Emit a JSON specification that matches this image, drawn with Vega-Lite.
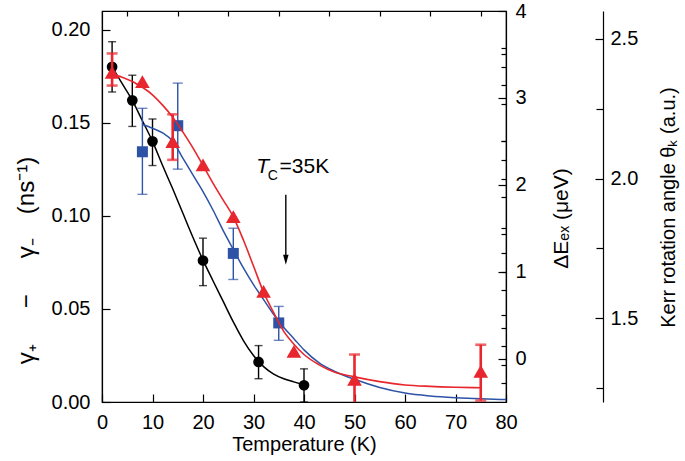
{
  "$schema": "https://vega.github.io/schema/vega-lite/v6.json",
  "width": 404,
  "height": 391,
  "autosize": {"type": "none"},
  "padding": {"left": 102, "top": 11, "right": 179, "bottom": 59},
  "background": "white",
  "config": {
    "font": "Liberation Sans",
    "view": {"stroke": "black", "strokeWidth": 1.2},
    "axis": {
      "domainColor": "black", "domainWidth": 1.2,
      "tickColor": "black", "tickWidth": 1.2,
      "labelColor": "black", "titleColor": "black",
      "labelFont": "Liberation Sans", "titleFont": "Liberation Sans",
      "labelFontSize": 20, "titleFontSize": 20, "titleFontWeight": "normal",
      "labelFlush": false, "grid": false
    }
  },
  "datasets": {
    "gammaPts": [
      {"T": 2, "v": 0.180, "lo": 0.1665, "hi": 0.1935},
      {"T": 6, "v": 0.162, "lo": 0.148, "hi": 0.1755},
      {"T": 10, "v": 0.140, "lo": 0.127, "hi": 0.152},
      {"T": 20, "v": 0.076, "lo": 0.0625, "hi": 0.088},
      {"T": 31, "v": 0.0215, "lo": 0.0125, "hi": 0.0303},
      {"T": 40, "v": 0.009, "lo": 0.0, "hi": 0.0178}
    ],
    "gammaFit": [
      {"T": 2, "v": 0.180}, {"T": 4, "v": 0.171}, {"T": 6, "v": 0.162}, {"T": 8, "v": 0.151},
      {"T": 10, "v": 0.140}, {"T": 12, "v": 0.127}, {"T": 14, "v": 0.1145}, {"T": 16, "v": 0.1015},
      {"T": 18, "v": 0.0885}, {"T": 20, "v": 0.0762}, {"T": 22, "v": 0.065}, {"T": 24, "v": 0.054},
      {"T": 26, "v": 0.043}, {"T": 28, "v": 0.033}, {"T": 30, "v": 0.025}, {"T": 32, "v": 0.019},
      {"T": 34, "v": 0.015}, {"T": 36, "v": 0.0125}, {"T": 38, "v": 0.0108}, {"T": 40, "v": 0.0092}
    ],
    "dePts": [
      {"T": 8, "v": 2.38, "lo": 1.89, "hi": 2.88},
      {"T": 15, "v": 2.68, "lo": 2.18, "hi": 3.17},
      {"T": 26, "v": 1.21, "lo": 0.91, "hi": 1.50},
      {"T": 35, "v": 0.41, "lo": 0.21, "hi": 0.60}
    ],
    "deFit": [
      {"T": 8, "v": 2.693}, {"T": 10, "v": 2.65}, {"T": 12, "v": 2.597}, {"T": 14, "v": 2.5},
      {"T": 16, "v": 2.307}, {"T": 18, "v": 2.114}, {"T": 20, "v": 1.922}, {"T": 22, "v": 1.707},
      {"T": 24, "v": 1.472}, {"T": 26, "v": 1.257}, {"T": 28, "v": 1.043}, {"T": 30, "v": 0.85},
      {"T": 32, "v": 0.679}, {"T": 34, "v": 0.507}, {"T": 36, "v": 0.357}, {"T": 38, "v": 0.229},
      {"T": 40, "v": 0.1}, {"T": 43, "v": -0.05}, {"T": 46, "v": -0.146}, {"T": 50, "v": -0.239},
      {"T": 55, "v": -0.333}, {"T": 60, "v": -0.397}, {"T": 65, "v": -0.431}, {"T": 70, "v": -0.451},
      {"T": 75, "v": -0.464}, {"T": 80, "v": -0.472}
    ],
    "kerrPts": [
      {"T": 2, "v": 2.38, "lo": 2.333, "hi": 2.448},
      {"T": 8, "v": 2.347},
      {"T": 14, "v": 2.132, "lo": 2.067, "hi": 2.23},
      {"T": 20, "v": 2.049},
      {"T": 26, "v": 1.864},
      {"T": 32, "v": 1.596},
      {"T": 38, "v": 1.381},
      {"T": 50, "v": 1.281, "lo": 1.19, "hi": 1.37},
      {"T": 75, "v": 1.31, "lo": 1.205, "hi": 1.405}
    ],
    "kerrFit": [
      {"T": 1.5, "v": 2.373}, {"T": 4, "v": 2.363}, {"T": 8, "v": 2.327}, {"T": 10, "v": 2.3},
      {"T": 12, "v": 2.263}, {"T": 14, "v": 2.22}, {"T": 16, "v": 2.167}, {"T": 18, "v": 2.11},
      {"T": 20, "v": 2.047}, {"T": 22, "v": 1.983}, {"T": 24, "v": 1.923}, {"T": 26, "v": 1.863},
      {"T": 28, "v": 1.78}, {"T": 30, "v": 1.687}, {"T": 32, "v": 1.593}, {"T": 34, "v": 1.52},
      {"T": 36, "v": 1.453}, {"T": 38, "v": 1.407}, {"T": 40, "v": 1.37}, {"T": 43, "v": 1.333},
      {"T": 46, "v": 1.307}, {"T": 50, "v": 1.29}, {"T": 55, "v": 1.273}, {"T": 60, "v": 1.261},
      {"T": 65, "v": 1.256}, {"T": 70, "v": 1.253}, {"T": 75, "v": 1.251}
    ],
    "note": [
      {"part": "T", "T": 30.55, "v": 0.1232, "txt": "T"},
      {"part": "C", "T": 32.8, "v": 0.1193, "txt": "C"},
      {"part": "rest", "T": 35.15, "v": 0.1232, "txt": "=35K"}
    ],
    "arrow": [
      {"T": 36.4, "top": 0.1113, "bot": 0.0775, "tip": 0.0764}
    ]
  },
  "layer": [
    {
      "layer": [
        {
          "data": {"name": "gammaFit"},
          "mark": {"type": "line", "color": "black", "strokeWidth": 1.5, "interpolate": "monotone"},
          "encoding": {
            "x": {"field": "T", "type": "quantitative",
                  "scale": {"domain": [0, 80], "nice": false, "zero": false},
                  "axis": {"values": [0, 10, 20, 30, 40, 50, 60, 70, 80], "tickSize": -8, "labelPadding": 18,
                           "title": "Temperature (K)", "titleY": 48, "titleBaseline": "alphabetic"}},
            "y": {"field": "v", "type": "quantitative",
                  "scale": {"domain": [0, 0.21], "nice": false, "zero": false},
                  "axis": {"values": [0, 0.05, 0.1, 0.15, 0.2], "format": ".2f", "tickSize": -8, "labelPadding": 20,
                           "title": "γ₊\u2003\u2002−\u2003\u2002γ₋\u2003(ns⁻¹)", "titleFontSize": 24, "titleX": -76, "titleY": 249, "titleBaseline": "middle", "titleAngle": 270}}
          }
        },
        {
          "data": {"name": "gammaPts"},
          "mark": {"type": "errorbar", "color": "black", "thickness": 1.4, "ticks": {"size": 8, "thickness": 1.4}},
          "encoding": {
            "x": {"field": "T", "type": "quantitative", "scale": {"domain": [0, 80], "nice": false}, "axis": null},
            "y": {"field": "lo", "type": "quantitative", "scale": {"domain": [0, 0.21], "nice": false}, "axis": null},
            "y2": {"field": "hi"}
          }
        },
        {
          "data": {"name": "gammaPts"},
          "mark": {"type": "point", "shape": "circle", "filled": true, "size": 115, "color": "black", "opacity": 1},
          "encoding": {
            "x": {"field": "T", "type": "quantitative", "scale": {"domain": [0, 80], "nice": false}, "axis": null},
            "y": {"field": "v", "type": "quantitative", "scale": {"domain": [0, 0.21], "nice": false}, "axis": null}
          }
        },
        {
          "data": {"name": "note"},
          "transform": [{"filter": "datum.part === 'T'"}],
          "mark": {"type": "text", "fontSize": 21, "fontStyle": "italic", "align": "left", "baseline": "alphabetic", "color": "black", "font": "Liberation Sans"},
          "encoding": {
            "x": {"field": "T", "type": "quantitative", "scale": {"domain": [0, 80], "nice": false}, "axis": null},
            "y": {"field": "v", "type": "quantitative", "scale": {"domain": [0, 0.21], "nice": false}, "axis": null},
            "text": {"field": "txt"}
          }
        },
        {
          "data": {"name": "note"},
          "transform": [{"filter": "datum.part === 'C'"}],
          "mark": {"type": "text", "fontSize": 14, "align": "left", "baseline": "alphabetic", "color": "black", "font": "Liberation Sans"},
          "encoding": {
            "x": {"field": "T", "type": "quantitative", "scale": {"domain": [0, 80], "nice": false}, "axis": null},
            "y": {"field": "v", "type": "quantitative", "scale": {"domain": [0, 0.21], "nice": false}, "axis": null},
            "text": {"field": "txt"}
          }
        },
        {
          "data": {"name": "note"},
          "transform": [{"filter": "datum.part === 'rest'"}],
          "mark": {"type": "text", "fontSize": 21, "align": "left", "baseline": "alphabetic", "color": "black", "font": "Liberation Sans"},
          "encoding": {
            "x": {"field": "T", "type": "quantitative", "scale": {"domain": [0, 80], "nice": false}, "axis": null},
            "y": {"field": "v", "type": "quantitative", "scale": {"domain": [0, 0.21], "nice": false}, "axis": null},
            "text": {"field": "txt"}
          }
        },
        {
          "data": {"name": "arrow"},
          "mark": {"type": "rule", "color": "black", "strokeWidth": 1.4},
          "encoding": {
            "x": {"field": "T", "type": "quantitative", "scale": {"domain": [0, 80], "nice": false}, "axis": null},
            "y": {"field": "top", "type": "quantitative", "scale": {"domain": [0, 0.21], "nice": false}, "axis": null},
            "y2": {"field": "bot"}
          }
        },
        {
          "data": {"name": "arrow"},
          "mark": {"type": "point", "shape": "M0,1L-0.55,-1L0.55,-1Z", "filled": true, "size": 100, "color": "black", "opacity": 1},
          "encoding": {
            "x": {"field": "T", "type": "quantitative", "scale": {"domain": [0, 80], "nice": false}, "axis": null},
            "y": {"field": "tip", "type": "quantitative", "scale": {"domain": [0, 0.21], "nice": false}, "axis": null}
          }
        },
        {
          "data": {"name": "gammaPts"},
          "mark": {"type": "point", "opacity": 0},
          "encoding": {
            "x": {"field": "T", "type": "quantitative", "scale": {"domain": [0, 80], "nice": false},
                  "axis": {"values": [5, 15, 25, 35, 45, 55, 65, 75], "labels": false, "domain": false, "tickSize": -5, "title": null}},
            "y": {"field": "v", "type": "quantitative", "scale": {"domain": [0, 0.21], "nice": false},
                  "axis": {"values": [0.01, 0.02, 0.03, 0.04, 0.06, 0.07, 0.08, 0.09, 0.11, 0.12, 0.13, 0.14, 0.16, 0.17, 0.18, 0.19],
                           "labels": false, "domain": false, "tickSize": -5, "title": null}}
          }
        }
      ],
      "resolve": {"axis": {"x": "independent", "y": "independent"}}
    },
    {
      "layer": [
        {
          "data": {"name": "deFit"},
          "mark": {"type": "line", "color": "#2d52a6", "strokeWidth": 1.5, "interpolate": "monotone"},
          "encoding": {
            "x": {"field": "T", "type": "quantitative", "scale": {"domain": [0, 80], "nice": false}, "axis": null},
            "y": {"field": "v", "type": "quantitative",
                  "scale": {"domain": [-0.5, 4], "nice": false, "zero": false},
                  "axis": {"orient": "right", "values": [0, 1, 2, 3, 4], "tickSize": -8, "labelPadding": 17,
                           "title": "ΔEₑₓ (μeV)", "titleFontSize": 21, "titleAngle": 270, "titleX": 55, "titleY": 207, "titleBaseline": "middle"}}
          }
        },
        {
          "data": {"name": "dePts"},
          "mark": {"type": "errorbar", "color": "#2d52a6", "thickness": 1.4, "ticks": {"size": 10, "thickness": 1.4}},
          "encoding": {
            "x": {"field": "T", "type": "quantitative", "scale": {"domain": [0, 80], "nice": false}, "axis": null},
            "y": {"field": "lo", "type": "quantitative", "scale": {"domain": [-0.5, 4], "nice": false, "zero": false}, "axis": null},
            "y2": {"field": "hi"}
          }
        },
        {
          "data": {"name": "dePts"},
          "mark": {"type": "point", "shape": "square", "filled": true, "size": 121, "color": "#2d52a6", "opacity": 1},
          "encoding": {
            "x": {"field": "T", "type": "quantitative", "scale": {"domain": [0, 80], "nice": false}, "axis": null},
            "y": {"field": "v", "type": "quantitative", "scale": {"domain": [-0.5, 4], "nice": false, "zero": false}, "axis": null}
          }
        },
        {
          "data": {"name": "dePts"},
          "mark": {"type": "point", "opacity": 0},
          "encoding": {
            "x": {"field": "T", "type": "quantitative", "scale": {"domain": [0, 80], "nice": false}, "axis": null},
            "y": {"field": "v", "type": "quantitative", "scale": {"domain": [-0.5, 4], "nice": false, "zero": false},
                  "axis": {"orient": "right", "values": [0.5, 1.5, 2.5, 3.5], "labels": false, "domain": false, "tickSize": -5, "title": null}}
          }
        }
      ],
      "resolve": {"axis": {"y": "independent"}}
    },
    {
      "layer": [
        {
          "data": {"name": "kerrFit"},
          "mark": {"type": "line", "color": "#e8262d", "strokeWidth": 1.6, "interpolate": "monotone"},
          "encoding": {
            "x": {"field": "T", "type": "quantitative", "scale": {"domain": [0, 80], "nice": false}, "axis": null},
            "y": {"field": "v", "type": "quantitative",
                  "scale": {"domain": [1.2, 2.6], "nice": false, "zero": false},
                  "axis": {"orient": "right", "offset": 97, "values": [1.5, 2.0, 2.5], "format": ".1f", "tickSize": -8, "labelPadding": 15,
                           "title": "Kerr rotation angle θₖ (a.u.)", "titleAngle": 270, "titleX": 65, "titleY": 196, "titleBaseline": "middle"}}
          }
        },
        {
          "data": {"name": "kerrPts"},
          "transform": [{"filter": "isValid(datum.lo)"}],
          "mark": {"type": "errorbar", "color": "#e8262d", "thickness": 2.6, "clip": true, "ticks": {"size": 11, "thickness": 2.6}},
          "encoding": {
            "x": {"field": "T", "type": "quantitative", "scale": {"domain": [0, 80], "nice": false}, "axis": null},
            "y": {"field": "lo", "type": "quantitative", "scale": {"domain": [1.2, 2.6], "nice": false, "zero": false}, "axis": null},
            "y2": {"field": "hi"}
          }
        },
        {
          "data": {"name": "kerrPts"},
          "mark": {"type": "point", "shape": "triangle-up", "filled": true, "size": 215, "color": "#e8262d", "opacity": 1},
          "encoding": {
            "x": {"field": "T", "type": "quantitative", "scale": {"domain": [0, 80], "nice": false}, "axis": null},
            "y": {"field": "v", "type": "quantitative", "scale": {"domain": [1.2, 2.6], "nice": false, "zero": false}, "axis": null}
          }
        },
        {
          "data": {"name": "kerrPts"},
          "mark": {"type": "point", "opacity": 0},
          "encoding": {
            "x": {"field": "T", "type": "quantitative", "scale": {"domain": [0, 80], "nice": false}, "axis": null},
            "y": {"field": "v", "type": "quantitative", "scale": {"domain": [1.2, 2.6], "nice": false, "zero": false},
                  "axis": {"orient": "right", "offset": 97, "values": [1.25, 1.75, 2.25], "labels": false, "domain": false, "tickSize": -7, "title": null}}
          }
        }
      ],
      "resolve": {"axis": {"y": "independent"}}
    }
  ],
  "resolve": {"scale": {"y": "independent"}, "axis": {"y": "independent", "x": "independent"}}
}
